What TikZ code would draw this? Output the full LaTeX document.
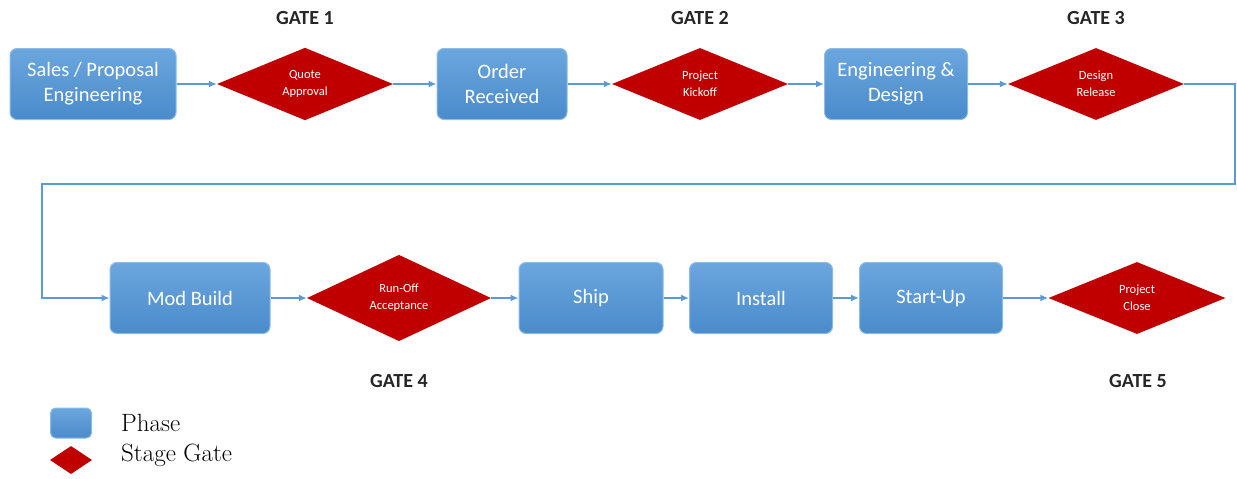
\documentclass[tikz,border=0pt]{standalone}
\usepackage{fontspec}
\usepackage{tikz}
\usetikzlibrary{positioning, arrows.meta, shapes.geometric}
\newfontfamily\calfont{Carlito}
\definecolor{phaseBlue}{HTML}{5B9BD5}
\definecolor{phaseTop}{HTML}{6BA6DE}
\definecolor{phaseBottom}{HTML}{4A8BCB}
\definecolor{phaseEdge}{HTML}{8DBBE6}
\definecolor{gateRed}{HTML}{C00000}
\definecolor{flowBlue}{HTML}{5B9BD5}

\begin{document}
\begin{tikzpicture}[
    x=1pt, y=-1pt,
    >={Latex[length=8pt,width=7pt]},
    phase/.style={draw=phaseEdge, line width=1pt, rounded corners=7pt,
        top color=phaseTop, bottom color=phaseBottom, text=white,
        align=center, minimum height=71pt, inner sep=0pt,
        font=\calfont\fontsize{20.5}{25}\selectfont},
    gate/.style={diamond, fill=gateRed, draw=none, text=white, align=center,
        minimum width=176pt, minimum height=72pt, inner sep=0pt,
        font=\calfont\fontsize{12.5}{17}\selectfont},
    gatelabel/.style={font=\calfont\bfseries\fontsize{20}{24}\selectfont, text=black!85},
    flow/.style={draw=flowBlue, line width=1.5pt, ->},
    legendtext/.style={anchor=west, font=\fontsize{25}{28}\selectfont, inner sep=0pt}
]
    \useasboundingbox (0,0) rectangle (1237,479);

    % first row
    \node[phase, minimum width=166pt] (sales) at (93,84) {Sales / Proposal\\Engineering};
    \node[gate] (g1) at (305,84) {Quote\\Approval};
    \node[phase, minimum width=130pt] (order) at (502,84) {Order\\Received};
    \node[gate] (g2) at (700,84) {Project\\Kickoff};
    \node[phase, minimum width=143pt] (eng) at (896,84) {Engineering \&\\Design};
    \node[gate] (g3) at (1096,84) {Design\\Release};

    % second row
    \node[phase, minimum width=160pt] (mod) at (190,298) {Mod Build};
    \node[gate, minimum width=184pt] (g4) at (399,298) {Run-Off\\Acceptance};
    \node[phase, minimum width=144pt] (ship) at (591,298) {Ship};
    \node[phase, minimum width=143pt] (install) at (761,298) {Install};
    \node[phase, minimum width=143pt] (startup) at (931,298) {Start-Up};
    \node[gate, minimum width=177pt] (g5) at (1137,298) {Project\\Close};

    % gate captions
    \node[gatelabel] (l1) at (305,18) {GATE 1};
    \node[gatelabel] (l2) at (700,18) {GATE 2};
    \node[gatelabel] (l3) at (1096,18) {GATE 3};
    \node[gatelabel] (l4) at (399,381) {GATE 4};
    \node[gatelabel] (l5) at (1138,381) {GATE 5};

    % corners of the return line
    \coordinate (turnR) at (1235,184);
    \coordinate (turnL) at (42,184);

    \draw[flow] (sales) -- (g1);
    \draw[flow] (g1) -- (order);
    \draw[flow] (order) -- (g2);
    \draw[flow] (g2) -- (eng);
    \draw[flow] (eng) -- (g3);
    \draw[flow] (g3.east) -| (turnR) -- (turnL) |- (mod.west);
    \draw[flow] (mod) -- (g4);
    \draw[flow] (g4) -- (ship);
    \draw[flow] (ship) -- (install);
    \draw[flow] (install) -- (startup);
    \draw[flow] (startup) -- (g5);

    % legend
    \node[phase, rounded corners=5pt, minimum width=41pt, minimum height=30pt] (keyphase) at (71,423) {};
    \node[gate, minimum width=42pt, minimum height=28pt] (keygate) at (71,460) {};
    \node[legendtext] (txtphase) at (121,423) {Phase};
    \node[legendtext] (txtgate) at (121,455) {Stage Gate};
\end{tikzpicture}
\end{document}
